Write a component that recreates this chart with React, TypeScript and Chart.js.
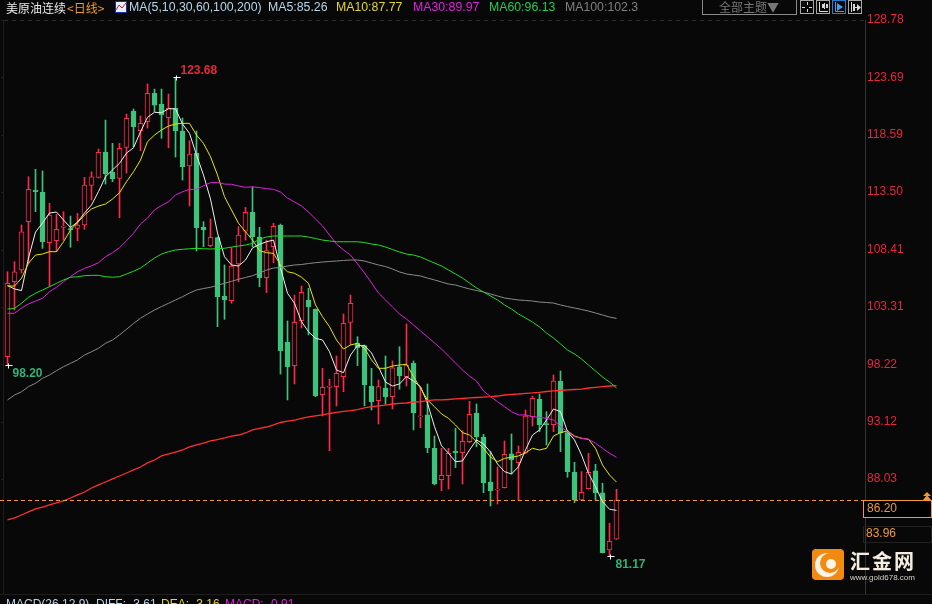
import { useEffect, useRef } from "react";
import { Chart, registerables } from "chart.js";

Chart.register(...registerables);

const SLOT_COUNT = 123;
const BACKGROUND = "#080808";
const UP_COLOR = "#ff2a4a";
const DOWN_COLOR = "#3cc47c";
const TICK_RED = "#e8253f";
const ORANGE = "#f09a30";

const yTicks = [128.78, 123.69, 118.59, 113.5, 108.41, 103.31, 98.22, 93.12, 88.03];
const yMin = 77.84;
const lastPrice = 86.2;
const sidePrice = "83.96";

const opens = [
  98.90, 105.55, 106.59, 110.88, 113.69, 113.49, 109.01, 109.19, 110.38, 110.26,
  110.29, 110.59, 114.11, 114.82, 117.06, 115.29, 114.73, 117.48, 120.70, 118.95,
  119.75, 122.27, 121.32, 120.11, 120.94, 118.93, 115.82, 116.95, 110.38, 108.75,
  109.46, 104.29, 103.87, 107.13, 110.05, 111.71, 109.52, 105.91, 108.66, 110.59,
  100.18, 98.10, 102.09, 103.93, 103.13, 95.53, 96.18, 96.24, 97.13, 101.95,
  100.09, 99.88, 96.30, 95.00, 96.12, 95.35, 98.01, 97.13, 98.31, 93.55,
  93.73, 90.77, 87.99, 88.34, 90.53, 90.38, 91.36, 93.90, 91.77, 87.78,
  87.05, 87.28, 90.27, 89.49, 90.33, 93.58, 95.12, 92.96, 92.87, 96.74,
  92.16, 88.67, 86.18, 87.19, 88.76, 86.81, 81.75, 82.70,
];
const closes = [
  105.41, 106.44, 109.99, 113.75, 113.54, 109.10, 111.47, 110.20, 110.50, 110.14,
  110.59, 114.13, 114.87, 117.04, 115.11, 114.67, 117.39, 120.05, 119.31, 119.61,
  122.27, 121.23, 120.35, 120.94, 118.93, 115.76, 116.89, 110.35, 110.14, 109.49,
  104.22, 103.93, 106.95, 109.70, 111.71, 109.55, 105.91, 108.31, 110.47, 99.43,
  98.01, 101.95, 104.61, 103.34, 95.41, 96.18, 96.30, 97.43, 101.86, 103.64,
  99.70, 96.39, 94.91, 96.24, 95.32, 97.92, 97.19, 98.16, 93.93, 93.66,
  90.83, 87.60, 88.38, 90.33, 90.38, 91.39, 93.79, 91.77, 87.69, 86.98,
  87.16, 90.24, 89.76, 90.42, 93.64, 95.21, 92.87, 92.84, 96.74, 92.16,
  88.70, 86.18, 86.87, 88.64, 86.83, 81.51, 82.52, 86.20,
];
const highs = [
  106.44, 107.33, 110.59, 114.87, 115.53, 115.38, 112.51, 111.53, 111.77, 111.38,
  111.62, 114.82, 115.31, 117.33, 119.90, 117.83, 117.83, 120.43, 120.88, 120.26,
  123.10, 122.65, 122.65, 122.21, 123.68, 120.08, 118.07, 118.93, 110.88, 111.12,
  109.52, 107.04, 108.57, 110.44, 112.16, 113.96, 110.38, 109.25, 110.74, 110.67,
  102.07, 104.37, 105.17, 104.97, 103.13, 97.87, 96.89, 98.96, 102.69, 104.37,
  100.67, 99.94, 97.87, 96.83, 98.96, 98.52, 99.79, 101.80, 98.52, 96.18,
  96.48, 91.86, 90.77, 90.77, 92.55, 92.33, 94.94, 94.70, 92.01, 90.47,
  89.11, 91.42, 92.04, 90.98, 94.17, 95.41, 95.59, 94.02, 97.28, 97.63,
  92.33, 89.53, 88.70, 90.33, 89.35, 87.67, 84.12, 87.13,
];
const lows = [
  98.20, 103.04, 106.33, 107.21, 111.77, 108.52, 105.11, 108.22, 109.25, 108.61,
  109.19, 110.20, 112.80, 114.76, 114.22, 114.43, 111.23, 115.20, 117.53, 117.18,
  119.19, 120.64, 118.28, 117.44, 116.62, 114.58, 112.27, 108.28, 108.66, 108.66,
  101.56, 102.22, 103.64, 105.55, 109.25, 108.66, 105.11, 104.58, 107.24, 97.36,
  95.06, 96.48, 101.45, 100.83, 95.35, 93.64, 90.56, 94.53, 95.79, 99.94,
  98.10, 94.53, 94.17, 92.93, 94.70, 94.26, 96.01, 96.30, 92.40, 92.60,
  90.38, 87.52, 87.01, 87.16, 89.05, 87.60, 91.27, 90.91, 86.83, 85.65,
  85.83, 87.25, 88.49, 86.18, 90.30, 92.75, 92.25, 91.07, 92.25, 90.47,
  88.20, 85.95, 86.12, 87.16, 86.18, 81.48, 81.17, 82.68,
];

const ma5 = [
  105.22, 104.91, 104.77, 107.66, 109.96, 110.76, 111.65, 111.74, 111.03, 110.36,
  110.85, 111.65, 112.36, 113.56, 114.87, 115.47, 116.06, 116.97, 117.44, 118.86,
  120.14, 120.59, 120.55, 120.90, 120.90, 119.55, 118.72, 116.80, 115.02, 112.89,
  109.88, 107.77, 107.04, 106.95, 107.48, 108.55, 108.87, 109.10, 109.25, 106.77,
  104.53, 103.64, 102.01, 101.12, 100.53, 100.38, 99.34, 97.72, 97.48, 99.05,
  99.88, 99.88, 99.23, 97.99, 96.65, 96.30, 96.48, 97.13, 96.74, 96.24,
  94.77, 92.69, 91.00, 90.33, 89.58, 89.65, 90.62, 91.51, 91.15, 90.44,
  89.38, 88.70, 88.49, 89.14, 90.62, 91.95, 92.40, 93.28, 94.26, 94.02,
  92.25, 91.51, 90.18, 88.55, 87.36, 86.03, 85.36, 85.26,
];
const ma10 = [
  105.17, 105.17, 105.86, 107.19, 107.92, 108.01, 108.22, 108.22, 109.10, 110.14,
  110.79, 111.47, 112.01, 112.27, 112.45, 112.89, 113.45, 114.43, 115.31, 116.35,
  117.98, 118.57, 119.02, 119.37, 119.55, 119.61, 119.61, 118.57, 117.83, 116.65,
  115.02, 113.10, 111.92, 110.74, 109.99, 109.25, 108.31, 108.13, 108.07, 107.04,
  106.44, 106.30, 105.95, 105.41, 103.49, 102.45, 101.56, 100.38, 99.58, 99.94,
  100.09, 99.65, 98.61, 97.87, 97.87, 98.07, 98.16, 98.23, 97.13, 96.10,
  95.06, 94.46, 93.82, 93.43, 92.84, 92.16, 91.95, 91.36, 90.77, 90.00,
  89.58, 89.88, 89.97, 90.09, 90.38, 90.77, 90.62, 90.77, 91.86, 92.16,
  92.31, 91.86, 91.66, 91.57, 90.77, 89.29, 88.40, 87.77,
];
const ma30 = [
  102.75, 102.75, 103.22, 103.58, 103.84, 104.08, 104.67, 105.06, 105.55, 106.00,
  106.44, 106.74, 106.97, 107.24, 107.77, 108.13, 108.57, 109.19, 109.85, 110.67,
  111.21, 111.92, 112.32, 112.65, 113.25, 113.54, 113.75, 113.75, 114.07, 114.34,
  114.37, 114.22, 114.20, 114.05, 113.93, 113.98, 113.90, 113.82, 113.75, 113.51,
  112.98, 112.63, 112.27, 111.74, 111.12, 110.50, 109.70, 108.90, 108.37, 107.92,
  107.13, 106.33, 105.44, 104.55, 103.93, 103.31, 102.69, 102.24, 101.71, 101.18,
  100.65, 100.12, 99.58, 98.96, 98.34, 97.72, 97.19, 96.74, 95.86, 95.35,
  94.91, 94.46, 94.02, 93.73, 93.73, 93.58, 93.52, 93.43, 93.28, 92.69,
  92.25, 91.80, 91.66, 91.57, 91.22, 90.77, 90.33, 89.97,
];
const ma60 = [
  103.13, 103.19, 103.64, 104.17, 104.53, 104.82, 105.11, 105.41, 105.71, 105.95,
  106.00, 106.09, 106.12, 106.12, 106.00, 105.95, 106.00, 106.24, 106.48, 106.77,
  107.21, 107.66, 108.01, 108.22, 108.37, 108.43, 108.48, 108.52, 108.48, 108.46,
  108.48, 108.52, 108.63, 108.72, 108.81, 108.96, 109.34, 109.52, 109.61, 109.61,
  109.61, 109.61, 109.61, 109.52, 109.39, 109.25, 109.17, 109.10, 109.10, 109.10,
  109.10, 109.03, 108.90, 108.81, 108.63, 108.41, 108.19, 108.01, 107.92, 107.75,
  107.48, 107.21, 106.95, 106.59, 106.24, 105.88, 105.44, 105.00, 104.64, 104.29,
  103.93, 103.49, 103.13, 102.69, 102.33, 101.98, 101.54, 101.00, 100.56, 100.03,
  99.49, 99.14, 98.70, 98.16, 97.63, 97.10, 96.65, 96.13,
];
const ma100 = [
  95.06, 95.50, 95.79, 96.24, 96.54, 96.98, 97.28, 97.66, 98.01, 98.31,
  98.61, 99.05, 99.34, 99.65, 100.09, 100.38, 100.83, 101.33, 101.85, 102.31,
  102.69, 103.04, 103.35, 103.64, 103.93, 104.22, 104.55, 104.82, 104.95, 105.06,
  105.24, 105.41, 105.59, 105.77, 105.93, 106.09, 106.33, 106.59, 106.77, 106.81,
  106.95, 107.04, 107.08, 107.17, 107.24, 107.30, 107.35, 107.39, 107.44, 107.48,
  107.48, 107.39, 107.21, 107.04, 106.90, 106.68, 106.42, 106.24, 106.15, 106.06,
  105.88, 105.71, 105.53, 105.35, 105.26, 105.08, 104.91, 104.77, 104.64, 104.46,
  104.29, 104.11, 104.02, 103.93, 103.89, 103.84, 103.75, 103.71, 103.66, 103.49,
  103.35, 103.22, 103.09, 102.95, 102.78, 102.60, 102.42, 102.30,
];
const ma200 = [
  84.41, 84.59, 84.85, 85.12, 85.39, 85.56, 85.74, 85.92, 86.10, 86.36,
  86.63, 86.89, 87.25, 87.52, 87.78, 88.05, 88.31, 88.58, 88.85, 89.11,
  89.47, 89.73, 90.09, 90.27, 90.44, 90.62, 90.89, 91.07, 91.24, 91.42,
  91.55, 91.69, 91.86, 91.95, 92.13, 92.40, 92.53, 92.66, 92.84, 93.06,
  93.19, 93.28, 93.42, 93.55, 93.64, 93.73, 93.86, 93.95, 94.04, 94.11,
  94.21, 94.35, 94.46, 94.53, 94.61, 94.70, 94.75, 94.79, 94.88, 94.92,
  95.00, 95.06, 95.06, 95.10, 95.15, 95.19, 95.24, 95.28, 95.32, 95.35,
  95.41, 95.50, 95.55, 95.59, 95.65, 95.68, 95.74, 95.81, 95.86, 95.90,
  95.95, 95.99, 96.03, 96.12, 96.18, 96.24, 96.30, 96.33,
];

const maLines: [string, number[], string, number][] = [
  ["MA200", ma200, "#ff3030", 1.3],
  ["MA100", ma100, "#8a8a8a", 1],
  ["MA60", ma60, "#22dd22", 1],
  ["MA30", ma30, "#e020e0", 1],
  ["MA10", ma10, "#e6e600", 1],
  ["MA5", ma5, "#eeeeee", 1],
];

const headerItems: [string, number, string][] = [
  ["MA(5,10,30,60,100,200)", 129, "#b8d4e8"],
  ["MA5:85.26", 268, "#b8d4e8"],
  ["MA10:87.77", 336, "#e6d820"],
  ["MA30:89.97", 413, "#e020e0"],
  ["MA60:96.13", 489, "#22cc55"],
  ["MA100:102.3", 565, "#808080"],
];

const macdItems: [string, number, string][] = [
  ["MACD(26,12,9)", 6, "#b8d4e8"],
  ["DIFF: -3.61", 96, "#b8d4e8"],
  ["DEA: -3.16", 161, "#e6d820"],
  ["MACD: -0.91", 225, "#e020e0"],
];

const isUp = (i: number) => closes[i] >= opens[i];

const overlayPlugin = {
  id: "terminalOverlay",
  beforeDraw(chart: any) {
    const { ctx, width, height } = chart;
    ctx.save();
    ctx.fillStyle = BACKGROUND;
    ctx.fillRect(0, 0, width, height);
    ctx.restore();
  },
  afterDatasetsDraw(chart: any) {
    const { ctx, scales } = chart;
    const xs = scales.x;
    const ys = scales.y;
    ctx.save();

    // frame lines
    ctx.strokeStyle = "#2c2c2c";
    ctx.lineWidth = 1;
    ctx.setLineDash([4, 4]);
    ctx.beginPath();
    ctx.moveTo(4, 20.5);
    ctx.lineTo(864, 20.5);
    ctx.stroke();
    ctx.setLineDash([]);
    ctx.strokeStyle = "#1e1e1e";
    ctx.beginPath();
    ctx.moveTo(3.5, 20);
    ctx.lineTo(3.5, 594);
    ctx.moveTo(0, 594.5);
    ctx.lineTo(932, 594.5);
    ctx.stroke();
    yTicks.forEach((t) => {
      const y = Math.round(ys.getPixelForValue(t)) + 0.5;
      ctx.beginPath();
      ctx.moveTo(1, y);
      ctx.lineTo(4, y);
      ctx.stroke();
    });

    // last price
    const lastY = Math.round(ys.getPixelForValue(lastPrice)) + 0.5;
    ctx.strokeStyle = ORANGE;
    ctx.setLineDash([4, 3]);
    ctx.beginPath();
    ctx.moveTo(0, lastY);
    ctx.lineTo(863, lastY);
    ctx.stroke();
    ctx.setLineDash([]);

    // high / low markers
    const hiIndex = highs.indexOf(Math.max(...highs));
    const loIndex = lows.indexOf(Math.min(...lows));
    const firstIndex = 0;
    const marker = (i: number, value: number) => {
      const x = Math.round(xs.getPixelForValue(i)) + 0.5;
      const y = Math.round(ys.getPixelForValue(value)) + 0.5;
      ctx.strokeStyle = "#ffffff";
      ctx.beginPath();
      ctx.moveTo(x - 3, y);
      ctx.lineTo(x + 4, y);
      ctx.moveTo(x, y - 2);
      ctx.lineTo(x, y + 3);
      ctx.stroke();
      return { x, y };
    };
    ctx.textBaseline = "middle";
    ctx.textAlign = "left";
    ctx.font = "bold 12px 'Liberation Sans'";
    const hi = marker(hiIndex, highs[hiIndex]);
    ctx.fillStyle = TICK_RED;
    ctx.fillText(highs[hiIndex].toFixed(2), hi.x + 4, hi.y - 7);
    const lo = marker(loIndex, lows[loIndex]);
    ctx.fillStyle = "#2fb37a";
    ctx.fillText(lows[loIndex].toFixed(2), lo.x + 5, lo.y + 8);
    const first = marker(firstIndex, lows[firstIndex]);
    ctx.fillStyle = "#2fb37a";
    ctx.fillText(lows[firstIndex].toFixed(2), first.x + 4, first.y + 8);

    // price boxes
    ctx.strokeStyle = ORANGE;
    ctx.strokeRect(863.5, 500.5, 68, 17);
    ctx.fillStyle = "#000000";
    ctx.fillRect(864, 501, 67, 16);
    ctx.strokeStyle = "#222222";
    ctx.strokeRect(863.5, 526.5, 68, 16);
    ctx.fillStyle = ORANGE;
    ctx.font = "12px 'Liberation Sans'";
    ctx.fillText(lastPrice.toFixed(2), 867, 509);
    ctx.fillText(sidePrice, 866, 534);
    ctx.beginPath();
    ctx.moveTo(927, 492);
    ctx.lineTo(931, 496);
    ctx.lineTo(923, 496);
    ctx.closePath();
    ctx.moveTo(927, 495);
    ctx.lineTo(931, 500);
    ctx.lineTo(923, 500);
    ctx.closePath();
    ctx.fill();

    // header
    ctx.font = "12px 'Noto Sans CJK SC'";
    ctx.fillStyle = "#e8e8e8";
    ctx.fillText("美原油连续", 6, 8);
    ctx.fillStyle = ORANGE;
    ctx.fillText("<日线>", 67, 8);
    ctx.font = "12.3px 'Liberation Sans'";
    headerItems.forEach(([text, x, color]) => {
      ctx.fillStyle = color;
      ctx.fillText(text, x, 8);
    });

    // indicator icon
    ctx.fillStyle = "#e8eefc";
    ctx.fillRect(115, 1, 12, 12);
    ctx.strokeStyle = "#1c2f9c";
    ctx.strokeRect(115.5, 1.5, 11, 11);
    ctx.strokeStyle = "#d02020";
    ctx.beginPath();
    ctx.moveTo(116, 10);
    ctx.lineTo(119, 5);
    ctx.lineTo(122, 8);
    ctx.lineTo(126, 3);
    ctx.stroke();

    // theme button
    ctx.strokeStyle = "#8a8a8a";
    ctx.strokeRect(702.5, -1, 94, 15.5);
    ctx.fillStyle = "#777777";
    ctx.font = "12px 'Noto Sans CJK SC'";
    ctx.textAlign = "center";
    ctx.fillText("全部主题▼", 749, 7);
    ctx.textAlign = "left";
    [800, 816, 832, 848].forEach((x, i) => {
      ctx.strokeStyle = i === 2 ? "#1f7fd0" : "#a8a8a8";
      ctx.strokeRect(x + 0.5, 0.5, 13, 13);
      ctx.strokeStyle = i === 2 ? "#3aa0f0" : "#d8d8d8";
      ctx.fillStyle = ctx.strokeStyle;
      ctx.beginPath();
      if (i === 0) {
        ctx.moveTo(x + 7.5, 2);
        ctx.lineTo(x + 7.5, 5);
        ctx.moveTo(x + 7.5, 9);
        ctx.lineTo(x + 7.5, 12);
        ctx.moveTo(x + 2, 7.5);
        ctx.lineTo(x + 5, 7.5);
        ctx.moveTo(x + 9, 7.5);
        ctx.lineTo(x + 12, 7.5);
        ctx.stroke();
      } else if (i === 1) {
        ctx.moveTo(x + 3.5, 2);
        ctx.lineTo(x + 3.5, 11.5);
        ctx.lineTo(x + 12, 11.5);
        ctx.moveTo(x + 8.5, 3);
        ctx.lineTo(x + 8.5, 9);
        ctx.stroke();
        ctx.fillRect(x + 6, 4, 2, 4);
        ctx.fillRect(x + 10, 4, 2, 4);
      } else if (i === 2) {
        ctx.moveTo(x + 3.5, 2);
        ctx.lineTo(x + 3.5, 11.5);
        ctx.lineTo(x + 12, 11.5);
        ctx.stroke();
        ctx.beginPath();
        ctx.moveTo(x + 5, 3);
        ctx.lineTo(x + 11, 7);
        ctx.lineTo(x + 5, 11);
        ctx.closePath();
        ctx.fill();
      } else {
        ctx.moveTo(x + 3.5, 2);
        ctx.lineTo(x + 3.5, 12);
        ctx.moveTo(x + 6, 7.5);
        ctx.lineTo(x + 10, 7.5);
        ctx.stroke();
        ctx.fillRect(x + 5, 4, 2, 7);
        ctx.beginPath();
        ctx.moveTo(x + 9, 4);
        ctx.lineTo(x + 13, 7.5);
        ctx.lineTo(x + 9, 11);
        ctx.closePath();
        ctx.fill();
      }
    });

    // macd caption, cut off by the window
    ctx.font = "12px 'Liberation Sans'";
    macdItems.forEach(([text, x, color]) => {
      ctx.fillStyle = color;
      ctx.fillText(text, x, 605);
    });

    // logo
    ctx.fillStyle = "#f28a10";
    ctx.beginPath();
    ctx.roundRect(812, 549, 32, 31, 4);
    ctx.fill();
    ctx.fillStyle = "#fff4e6";
    ctx.beginPath();
    ctx.arc(827, 565, 12, 0, Math.PI * 2);
    ctx.fill();
    ctx.fillStyle = "#f28a10";
    ctx.beginPath();
    ctx.arc(830, 563, 10, 0, Math.PI * 2);
    ctx.fill();
    ctx.fillStyle = "#fff4e6";
    ctx.beginPath();
    ctx.arc(831, 564, 5, 0, Math.PI * 2);
    ctx.fill();
    ctx.fillStyle = "#f5ede0";
    ctx.font = "bold 20px 'Noto Sans CJK SC'";
    (ctx as any).letterSpacing = "2px";
    ctx.fillText("汇金网", 850, 561);
    (ctx as any).letterSpacing = "0px";
    ctx.font = "8px 'Liberation Sans'";
    ctx.fillStyle = "#d8d0c4";
    ctx.fillText("www.gold678.com", 850, 578);

    ctx.restore();
  },
};

export default function App() {
  const canvasRef = useRef<HTMLCanvasElement>(null);

  useEffect(() => {
    document.body.style.margin = "0";
    document.body.style.background = BACKGROUND;
    if (!canvasRef.current) return;

    const chart = new Chart(canvasRef.current, {
      type: "bar",
      data: {
        labels: Array.from({ length: SLOT_COUNT }, (_, i) => String(i)),
        datasets: [
          ...maLines.map(([label, values, color, width]) => ({
            type: "line" as const,
            label,
            data: values,
            borderColor: color,
            borderWidth: width,
            pointRadius: 0,
            tension: 0,
            order: 1,
          })),
          {
            label: "body",
            data: opens.map((o, i) => [o, closes[i]]),
            backgroundColor: opens.map((_, i) => (isUp(i) ? BACKGROUND : DOWN_COLOR)),
            borderColor: opens.map((_, i) => (isUp(i) ? UP_COLOR : DOWN_COLOR)),
            borderWidth: 1,
            borderSkipped: false,
            barThickness: 5,
            grouped: false,
            order: 2,
          },
          {
            label: "wick",
            data: lows.map((l, i) => [l, highs[i]]),
            backgroundColor: opens.map((_, i) => (isUp(i) ? UP_COLOR : DOWN_COLOR)),
            barThickness: 1,
            grouped: false,
            order: 3,
          },
        ],
      },
      options: {
        responsive: false,
        animation: false,
        devicePixelRatio: 1,
        layout: { padding: { left: 4, top: 20, bottom: 10, right: 0 } },
        plugins: { legend: { display: false }, tooltip: { enabled: false } },
        scales: {
          x: { display: false, grid: { display: false } },
          y: {
            position: "right",
            min: yMin,
            max: yTicks[0],
            grid: { display: false, drawTicks: false },
            border: { display: true, color: "#333333", dash: [1, 6] },
            afterFit: (scale: any) => {
              scale.width = 67;
            },
            afterBuildTicks: (scale: any) => {
              scale.ticks = yTicks.map((value) => ({ value }));
            },
            ticks: {
              autoSkip: false,
              padding: 2,
              color: TICK_RED,
              font: { family: "'Liberation Sans'", size: 12 },
              callback: (value: any) => Number(value).toFixed(2),
            },
          },
        },
      },
      plugins: [overlayPlugin],
    } as any);

    return () => chart.destroy();
  }, []);

  return (
    <canvas
      ref={canvasRef}
      width={932}
      height={604}
      style={{ display: "block", width: 932, height: 604 }}
    />
  );
}
